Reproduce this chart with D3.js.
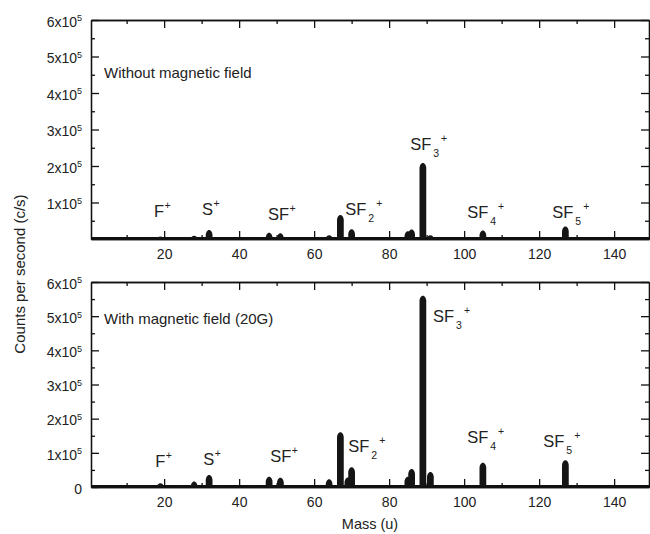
<!DOCTYPE html>
<html>
<head>
<meta charset="utf-8">
<script src="https://cdn.jsdelivr.net/npm/d3@7/dist/d3.min.js"></script>
<style>
  body { margin: 0; background: #fff; }
  svg { display: block; font-family: "Liberation Sans", Arial, Helvetica, sans-serif; }
  .axis path, .axis line { stroke: #111; stroke-width: 1.3; }
  .axis text { font-size: 14px; fill: #222; }
</style>
</head>
<body>
<div id="chart"></div>
<script>
// peak masses (u)
var masses = [12, 14, 16, 19, 24, 28, 32, 35, 44, 48, 51, 64, 67, 69, 70, 85, 86, 89, 91, 105, 108, 127, 129, 139];

// counts per second, without magnetic field (top panel)
var countsNoField = [1000, 1000, 2000, 7000, 1000, 9000, 25000, 1000, 2000, 17000, 16000, 10000,
    66000, 5000, 27000, 21000, 26000, 208000, 10000, 23000, 2000, 34000, 2000, 1000];

// counts per second, with magnetic field 20G (bottom panel)
var countsField = [4000, 5000, 5000, 11000, 3000, 16000, 35000, 3000, 5000, 30000, 27000, 23000,
    160000, 28000, 58000, 30000, 53000, 560000, 44000, 71000, 5000, 78000, 4000, 3000];

// ion labels
var ionBase = ["F", "S", "SF", "SF", "SF", "SF", "SF"];
var ionSub  = ["", "", "", "2", "3", "4", "5"];

// where each label sits, in data units (mass, counts)
var labelMassNoField = [17.3, 30.1, 47.7, 68.3, 85.6, 100.8, 123.5];
var labelCountNoField = [60000, 66000, 52000, 66000, 244000, 58000, 58000];
var labelMassField = [17.6, 30.4, 48.3, 69.1, 91.7, 100.8, 121.1];
var labelCountField = [58000, 64000, 73000, 102000, 483000, 129000, 117000];

var xMajor = [20, 40, 60, 80, 100, 120, 140];
var xMinor = [10, 30, 50, 70, 90, 110, 130];
var yMajor = [100000, 200000, 300000, 400000, 500000, 600000];
var yMinor = [50000, 150000, 250000, 350000, 450000, 550000];

var width = 650, height = 534;
var left = 91, right = 649;

var svg = d3.select("#chart").append("svg")
    .attr("width", width).attr("height", height);

var x = d3.scaleLinear().domain([0.5, 149.3]).range([left, right]);

var panels = [
    { top: 20, bottom: 239, counts: countsNoField, title: "Without magnetic field", titleY: 78,
      zero: false, lm: labelMassNoField, lc: labelCountNoField },
    { top: 282, bottom: 487, counts: countsField, title: "With magnetic field (20G)", titleY: 324,
      zero: true, lm: labelMassField, lc: labelCountField }
];

var peakWidth = 1.8; // mass units

panels.forEach(function(p) {
    var y = d3.scaleLinear().domain([0, 600000]).range([p.bottom, p.top]);
    var g = svg.append("g");

    // spectrum baseline
    g.append("line")
        .attr("x1", left).attr("x2", right)
        .attr("y1", y(0) - 0.5).attr("y2", y(0) - 0.5)
        .attr("stroke", "#111").attr("stroke-width", 3);

    // peaks as rounded columns
    g.selectAll("path.peak")
        .data(masses.map(function(m, i) { return { m: m, c: p.counts[i] }; }))
        .enter().append("path")
        .attr("class", "peak")
        .attr("fill", "#151515")
        .attr("d", function(d) {
            var x0 = x(d.m - peakWidth / 2), x1 = x(d.m + peakWidth / 2);
            var yb = y(0), yt = y(d.c);
            var rx = (x1 - x0) / 2;
            var ry = Math.min(rx * 1.6, yb - yt);
            var path = d3.path();
            path.moveTo(x0, yb);
            path.lineTo(x0, yt + ry);
            path.bezierCurveTo(x0, yt + ry * 0.45, x0 + rx * 0.45, yt, x0 + rx, yt);
            path.bezierCurveTo(x1 - rx * 0.45, yt, x1, yt + ry * 0.45, x1, yt + ry);
            path.lineTo(x1, yb);
            path.closePath();
            return path.toString();
        });

    // axes, ticks pointing inward
    g.append("g").attr("class", "axis")
        .attr("transform", "translate(0," + p.bottom + ")")
        .call(d3.axisBottom(x).tickValues(xMajor).tickSize(-8).tickSizeOuter(0).tickPadding(10.5));
    g.append("g").attr("class", "axis")
        .attr("transform", "translate(0," + p.bottom + ")")
        .call(d3.axisBottom(x).tickValues(xMinor).tickSize(-4).tickSizeOuter(0).tickFormat(""));
    g.append("g").attr("class", "axis")
        .attr("transform", "translate(0," + p.top + ")")
        .call(d3.axisTop(x).tickValues(xMajor).tickSize(-8).tickSizeOuter(0).tickFormat(""));
    g.append("g").attr("class", "axis")
        .attr("transform", "translate(0," + p.top + ")")
        .call(d3.axisTop(x).tickValues(xMinor).tickSize(-4).tickSizeOuter(0).tickFormat(""));

    var yl = g.append("g").attr("class", "axis")
        .attr("transform", "translate(" + left + ",0)")
        .call(d3.axisLeft(y).tickValues(p.zero ? [0].concat(yMajor) : yMajor)
            .tickSize(-8).tickSizeOuter(0).tickPadding(9));
    g.append("g").attr("class", "axis")
        .attr("transform", "translate(" + left + ",0)")
        .call(d3.axisLeft(y).tickValues(yMinor).tickSize(-4).tickSizeOuter(0).tickFormat(""));
    g.append("g").attr("class", "axis")
        .attr("transform", "translate(" + right + ",0)")
        .call(d3.axisRight(y).tickValues(yMajor).tickSize(-8).tickSizeOuter(0).tickFormat(""));
    g.append("g").attr("class", "axis")
        .attr("transform", "translate(" + right + ",0)")
        .call(d3.axisRight(y).tickValues(yMinor).tickSize(-4).tickSizeOuter(0).tickFormat(""));

    // y tick labels as "Nx10^5"
    yl.selectAll(".tick text").each(function(v) {
        var t = d3.select(this).text("").attr("dy", "0.45em");
        if (v === 0) { t.text("0"); return; }
        t.append("tspan").text((v / 100000) + "x10");
        t.append("tspan").attr("dy", "-0.6em").style("font-size", "9px").text("5");
    });

    // panel title
    g.append("text").attr("x", 104).attr("y", p.titleY)
        .style("font-size", "15px").attr("fill", "#222").text(p.title);

    // ion labels
    ionBase.forEach(function(b, i) {
        var t = g.append("text")
            .attr("x", x(p.lm[i])).attr("y", y(p.lc[i]))
            .style("font-size", "16.5px").attr("fill", "#222");
        t.append("tspan").text(b);
        if (ionSub[i]) {
            t.append("tspan").attr("dx", 2).attr("dy", 7).style("font-size", "10.5px").text(ionSub[i]);
            t.append("tspan").attr("dx", 2).attr("dy", -15).style("font-size", "10.5px").text("+");
        } else {
            t.append("tspan").attr("dx", 0.5).attr("dy", -8).style("font-size", "10.5px").text("+");
        }
    });
});

// axis titles
svg.append("text")
    .attr("x", (left + right) / 2).attr("y", 529)
    .attr("text-anchor", "middle").style("font-size", "14.5px").attr("fill", "#222")
    .text("Mass (u)");

svg.append("text")
    .attr("transform", "translate(25,274) rotate(-90)")
    .attr("text-anchor", "middle").style("font-size", "15px").attr("fill", "#222")
    .text("Counts per second (c/s)");
</script>
</body>
</html>
